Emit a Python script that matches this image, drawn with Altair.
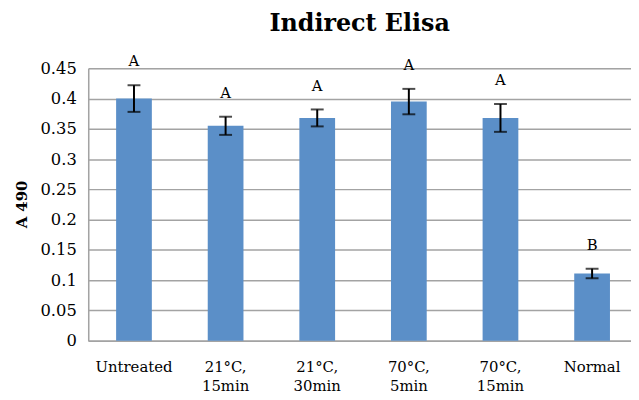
import altair as alt
import pandas as pd

categories = ["Untreated", "21°C,\n15min", "21°C,\n30min", "70°C,\n5min", "70°C,\n15min", "Normal"]
means = [0.400, 0.355, 0.368, 0.395, 0.368, 0.111]
errors = [0.022, 0.015, 0.014, 0.021, 0.023, 0.008]
letters = ["A", "A", "A", "A", "A", "B"]
y_ticks = [0, 0.05, 0.1, 0.15, 0.2, 0.25, 0.3, 0.35, 0.4, 0.45]

df = pd.DataFrame({
    "cat": categories,
    "mean": means,
    "lo": [m - e for m, e in zip(means, errors)],
    "hi": [m + e for m, e in zip(means, errors)],
    "letter": letters,
})

FONT = "DejaVu Serif"
GRID = "#a3a3a3"

x_axis = alt.Axis(labelAngle=0, labelFont=FONT, labelFontSize=15, labelColor="black",
                  labelExpr="split(datum.label, '\\n')", labelLineHeight=19,
                  labelPadding=19, ticks=False, domainColor=GRID, domainWidth=1.5,
                  labelBaseline="top")
x_scale = alt.Scale(paddingInner=0.61, paddingOuter=0.267, align=0.57)
x = alt.X("cat:N", sort=categories, title=None, scale=x_scale, axis=x_axis)

y_scale = alt.Scale(domain=[0, 0.45], nice=False)
y_axis = alt.Axis(values=y_ticks, format="~g", labelFont=FONT, labelFontSize=16.5,
                  labelColor="black", labelPadding=12, ticks=False,
                  domainColor=GRID, domainWidth=1.5,
                  gridColor=GRID, gridWidth=1.5,
                  titleFont=FONT, titleFontSize=15, titleFontWeight="bold",
                  titleColor="black", titleX=-67, titleY=137, titleAngle=-90,
                  titleAlign="center", titleBaseline="middle")

def yenc(field):
    return alt.Y(field, scale=y_scale, title="A 490", axis=y_axis)

bars = alt.Chart(df).mark_bar(color="#5b8fc8").encode(x=x, y=yenc("mean:Q"))

rule = alt.Chart(df).mark_rule(color="black", strokeWidth=2).encode(
    x=x, y=yenc("lo:Q"), y2="hi:Q")
cap_hi = alt.Chart(df).mark_tick(color="black", thickness=2, size=13).encode(
    x=x, y=yenc("hi:Q"))
cap_lo = alt.Chart(df).mark_tick(color="black", thickness=2, size=13).encode(
    x=x, y=yenc("lo:Q"))
text = alt.Chart(df).mark_text(font=FONT, fontSize=15, color="black", dy=-24,
                               baseline="middle").encode(
    x=x, y=yenc("hi:Q"), text="letter:N")

chart = alt.layer(bars, rule, cap_hi, cap_lo, text).properties(
    width=548, height=275,
    autosize=alt.AutoSizeParams(type="none"),
    padding={"left": 81, "top": 59, "right": 0, "bottom": 56},
    title=alt.TitleParams("Indirect Elisa", font=FONT, fontSize=24, fontWeight="bold",
                          color="black", anchor="middle", offset=19),
).configure_view(stroke=GRID, strokeWidth=1.5).configure(background="white")

chart.save("out.html", embed_options={"renderer": "svg", "actions": False})
